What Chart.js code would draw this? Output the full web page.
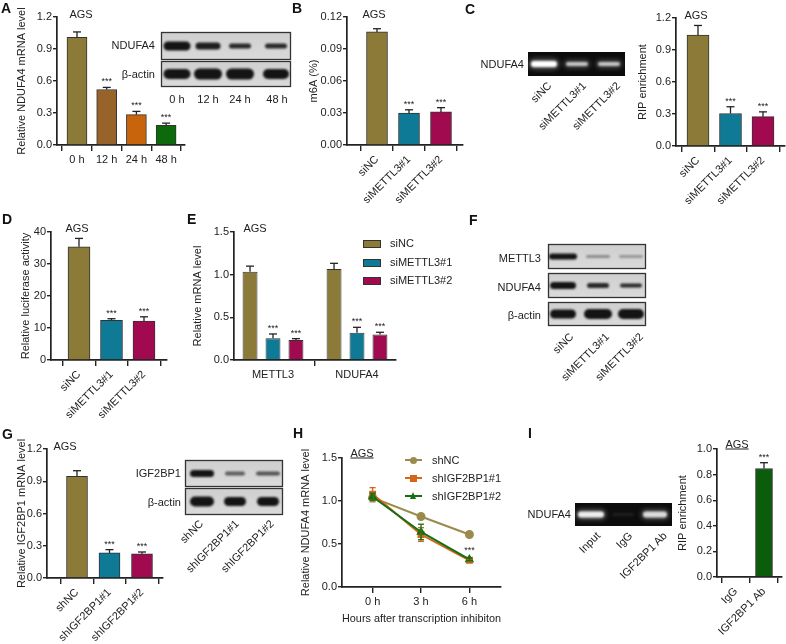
<!DOCTYPE html>
<html><head><meta charset="utf-8">
<script src="https://cdn.jsdelivr.net/npm/chart.js@4.4.1/dist/chart.umd.min.js"></script>
<style>
body{margin:0;width:786px;height:644px;position:relative;overflow:hidden;background:#fff;font-family:"Liberation Sans",Arial,Helvetica,sans-serif;color:#222}
.t{position:absolute;white-space:nowrap;font-size:11px;line-height:1}
.L{position:absolute;font-weight:bold;font-size:14px;line-height:1;color:#111}
.rw{position:absolute;width:0;height:0}
.rw span{position:absolute;right:0;top:0;white-space:nowrap;font-size:11px;line-height:1;transform-origin:100% 0;transform:rotate(-45deg)}
</style></head><body>
<canvas id="bg" width="786" height="644" style="position:absolute;left:0;top:0"></canvas>
<script>
// ---------------- DATA ----------------
// Panel A
const aCats = ['0 h', '12 h', '24 h', '48 h'];
const aVals = [1.01, 0.52, 0.285, 0.185];
const aErr  = [1.06, 0.54, 0.315, 0.205];   // upper end of error bars
const aSig  = ['', '***', '***', '***'];
const aTicks = [0, 0.3, 0.6, 0.9, 1.2];
// Panels B, C, D (siRNA)
const siCats = ['siNC', 'siMETTL3#1', 'siMETTL3#2'];
const bVals = [0.106, 0.030, 0.031];
const bErr  = [0.109, 0.033, 0.035];
const bTicks = [0, 0.03, 0.06, 0.09, 0.12];
const cVals = [1.04, 0.305, 0.275];
const cErr  = [1.13, 0.368, 0.32];
const cTicks = [0, 0.3, 0.6, 0.9, 1.2];
const dVals = [35.4, 12.4, 12.2];
const dErr  = [38.0, 12.9, 13.5];
const dTicks = [0, 10, 20, 30, 40];
const sig3 = ['', '***', '***'];
// Panel E
const eCats = ['METTL3', 'NDUFA4'];
const eSeries = ['siNC', 'siMETTL3#1', 'siMETTL3#2'];
const eNC    = [1.035, 1.065];
const eNCErr = [1.10, 1.133];
const eS1    = [0.255, 0.32];
const eS1Err = [0.305, 0.383];
const eS2    = [0.235, 0.30];
const eS2Err = [0.25, 0.325];
const eTicks = [0, 0.5, 1.0, 1.5];
// Panel G
const shCats = ['shNC', 'shIGF2BP1#1', 'shIGF2BP1#2'];
const gVals = [0.946, 0.233, 0.226];
const gErr  = [0.998, 0.264, 0.242];
const gTicks = [0, 0.3, 0.6, 0.9, 1.2];
// Panel H
const hHours  = [0, 3, 6];
const hLabels = ['0 h', '3 h', '6 h'];
const hSeries = ['shNC', 'shIGF2BP1#1', 'shIGF2BP1#2'];
const hNC   = [1.04, 0.82, 0.61];
const hNCsd = [0.05, 0.015, 0.025];
const h1    = [1.08, 0.61, 0.31];
const h1sd  = [0.075, 0.08, 0.015];
const h2    = [1.05, 0.64, 0.32];
const h2sd  = [0.04, 0.09, 0.015];
const h1Sig = ['', '', '***'];
const hTicks = [0, 0.5, 1.0, 1.5];
// Panel I
const iCats = ['IgG', 'IGF2BP1 Ab'];
const iVals = [0, 0.848];
const iErr  = [0, 0.893];
const iSig  = ['', '***'];
const iTicks = [0, 0.2, 0.4, 0.6, 0.8, 1.0];

// ---------------- STYLE ----------------
const INK = '#222';
const OLIVE = '#8b7a38', BROWN = '#98632a', ORANGE = '#c8650c', GREEN = '#0c6a0c',
      TEAL = '#0f7a95', CRIMSON = '#a10a4f', DKGREEN = '#0b5c0b';
const FONT = '"Liberation Sans", Arial, Helvetica, sans-serif';
Chart.defaults.font.family = FONT;
Chart.defaults.font.size = 11;
Chart.defaults.color = INK;

const errPlugin = {
  id: 'errbars',
  afterDatasetsDraw(chart) {
    const ctx = chart.ctx, ys = chart.scales.y;
    chart.data.datasets.forEach((ds, i) => {
      const meta = chart.getDatasetMeta(i);
      meta.data.forEach((el, j) => {
        const d = ds.data[j];
        const val = (typeof d === 'object') ? d.y : d;
        let top = el.y;
        ctx.save();
        ctx.strokeStyle = ds.errColor || INK;
        ctx.lineWidth = 1.3;
        const cap = ds.capW || 4;
        const seg = (x1, y1, x2, y2) => { ctx.beginPath(); ctx.moveTo(x1, y1); ctx.lineTo(x2, y2); ctx.stroke(); };
        if (ds.errHi && ds.errHi[j] > val) {
          const py = ys.getPixelForValue(ds.errHi[j]);
          seg(el.x, el.y, el.x, py); seg(el.x - cap, py, el.x + cap, py);
          top = py;
        }
        if (ds.sd && ds.sd[j] > 0) {
          const pu = ys.getPixelForValue(val + ds.sd[j]);
          const pl = ys.getPixelForValue(val - ds.sd[j]);
          seg(el.x, pl, el.x, pu); seg(el.x - cap, pu, el.x + cap, pu); seg(el.x - cap, pl, el.x + cap, pl);
          top = Math.min(pu, el.y - 4);
        }
        if (ds.sig && ds.sig[j]) {
          ctx.fillStyle = INK; ctx.font = '9px ' + FONT;
          ctx.textAlign = 'center'; ctx.textBaseline = 'bottom';
          ctx.fillText(ds.sig[j], el.x, top - 1);
        }
        ctx.restore();
      });
    });
  }
};

function makeCanvas(g) {
  const padT = 12, padR = g.padR ?? 4;
  const left = Math.round(g.titleX - 6.6);
  const top = g.yTop - padT;
  const w = g.x1 - left + padR, h = g.yBot + g.xH - top;
  const cv = document.createElement('canvas');
  cv.width = w; cv.height = h;
  cv.style.cssText = `position:absolute;left:${left}px;top:${top}px;width:${w}px;height:${h}px`;
  document.body.appendChild(cv);
  return {cv, padT, padR, yW: g.x0 - left};
}

function axisOpts(tl) {
  return {
    grid: {display: true, drawOnChartArea: false, tickLength: tl, color: INK, lineWidth: 1.4},
    border: {display: true, color: INK, width: 1.7}
  };
}

function buildChart(type, g, datasets, xLabels, xValues, yTicks, dec, extraX) {
  const {cv, padT, padR, yW} = makeCanvas(g);
  const xmin = xValues[0] - (g.c0 - g.x0) / g.d;
  const xmax = xmin + (g.x1 - g.x0) / g.d;
  const x = Object.assign({
    type: 'linear', min: xmin, max: xmax, offset: false,
    afterBuildTicks: s => { s.ticks = xValues.map(v => ({value: v})); },
    ticks: {autoSkip: false, minRotation: g.rot || 0, maxRotation: g.rot || 0, padding: 2, color: INK,
            callback: v => xLabels[xValues.indexOf(v)]},
    afterFit: s => { s.height = g.xH; }
  }, axisOpts(6), extraX || {});
  const y = Object.assign({
    min: yTicks[0], max: yTicks[yTicks.length - 1],
    afterBuildTicks: s => { s.ticks = yTicks.map(v => ({value: v})); },
    ticks: {padding: 1, color: INK, callback: v => Number(v).toFixed(dec)},
    title: {display: true, text: g.title, padding: {top: 0, bottom: 0}, color: INK, font: {size: 11}},
    afterFit: s => { s.width = yW; }
  }, axisOpts(4));
  return new Chart(cv, {
    type,
    data: {datasets},
    options: {
      responsive: false, animation: false, devicePixelRatio: 1,
      layout: {padding: {top: padT, right: padR, left: 0, bottom: 0}},
      plugins: {legend: {display: false}, tooltip: {enabled: false}},
      scales: {x, y}
    },
    plugins: [errPlugin]
  });
}

const idx = arr => arr.map((_, i) => i);
const pts = (xs, ys) => ys.map((v, i) => ({x: xs[i], y: v}));
function barDs(vals, colors, err, sig, bw) {
  return {data: pts(idx(vals), vals), backgroundColor: colors, borderColor: '#333', borderWidth: 1,
          barThickness: bw, errHi: err, sig: sig};
}

// ---- A
buildChart('bar', {title: 'Relative NDUFA4 mRNA level', titleX: 22, x0: 57, x1: 185, yTop: 17, yBot: 145, xH: 28, c0: 77, d: 29.7},
  [barDs(aVals, [OLIVE, BROWN, ORANGE, GREEN], aErr, aSig, 20)], aCats, idx(aCats), aTicks, 1);
// ---- B
buildChart('bar', {title: 'm6A (%)', titleX: 314, x0: 347, x1: 463, yTop: 17, yBot: 145, xH: 62, c0: 377, d: 32, rot: 45},
  [barDs(bVals, [OLIVE, TEAL, CRIMSON], bErr, sig3, 21)], siCats, idx(siCats), bTicks, 2);
// ---- C
buildChart('bar', {title: 'RIP enrichment', titleX: 643, x0: 676, x1: 785, yTop: 18, yBot: 146, xH: 62, c0: 698, d: 32.5, rot: 45, padR: 1},
  [barDs(cVals, [OLIVE, TEAL, CRIMSON], cErr, sig3, 22)], siCats, idx(siCats), cTicks, 1);
// ---- D
buildChart('bar', {title: 'Relative luciferase activity', titleX: 26, x0: 51, x1: 167, yTop: 232, yBot: 360, xH: 62, c0: 79, d: 32.5, rot: 45},
  [barDs(dVals, [OLIVE, TEAL, CRIMSON], dErr, sig3, 22)], siCats, idx(siCats), dTicks, 0);
// ---- E (grouped)
const eColors = [OLIVE, TEAL, CRIMSON];
const eData = [eNC, eS1, eS2], eErrs = [eNCErr, eS1Err, eS2Err];
buildChart('bar', {title: 'Relative mRNA level', titleX: 198, x0: 234, x1: 396, yTop: 232, yBot: 360, xH: 28, c0: 273, d: 84},
  eSeries.map((name, k) => ({label: name, data: pts(idx(eCats), eData[k]), backgroundColor: eColors[k],
    borderColor: '#333', borderWidth: 1, categoryPercentage: 0.82, barPercentage: 0.65,
    errHi: eErrs[k], sig: k === 0 ? null : ['***', '***']})),
  eCats, idx(eCats), eTicks, 1);
// ---- G
buildChart('bar', {title: 'Relative IGF2BP1 mRNA level', titleX: 22, x0: 47, x1: 163, yTop: 449, yBot: 578, xH: 64, c0: 77, d: 32.5, rot: 45},
  [barDs(gVals, [OLIVE, TEAL, CRIMSON], gErr, sig3, 21)], shCats, idx(shCats), gTicks, 1);
// ---- I
buildChart('bar', {title: 'RIP enrichment', titleX: 683, x0: 717, x1: 782, yTop: 449, yBot: 577, xH: 62, c0: 736, d: 28, rot: 45, padR: 3},
  [barDs(iVals, [DKGREEN, DKGREEN], iErr, iSig, 17)], iCats, idx(iCats), iTicks, 1);
// ---- H (line)
const hColors = ['#9a8a4c', '#d4661a', '#137013'];
const hStyles = ['circle', 'rect', 'triangle'];
const hData = [hNC, h1, h2], hSd = [hNCsd, h1sd, h2sd];
buildChart('line', {title: 'Relative NDUFA4 mRNA level', titleX: 306, x0: 342, x1: 503, yTop: 458, yBot: 587, xH: 39, c0: 373, d: 16.333},
  hSeries.map((name, k) => ({label: name, data: pts(hHours, hData[k]), borderColor: hColors[k], backgroundColor: hColors[k],
    pointStyle: hStyles[k], pointRadius: 3.5, borderWidth: 2, errColor: hColors[k], capW: 3,
    sd: hSd[k], sig: k === 1 ? h1Sig : null, order: 3 - k})),
  hLabels, hHours, hTicks, 1,
  {title: {display: true, text: 'Hours after transcription inhibiton', padding: {top: 0, bottom: 0}, color: INK, font: {size: 11}}});

// ---------------- TEXT ----------------
function txt(s, x, y, align, cls, extra) {
  const d = document.createElement('div');
  d.className = cls || 't';
  d.textContent = s;
  const tx = align === 'right' ? '-100%' : align === 'left' ? '0' : '-50%';
  d.style.cssText = `left:${x}px;top:${y}px;transform:translate(${tx},-50%);` + (extra || '');
  document.body.appendChild(d);
}
function rot(s, x, y) {
  const w = document.createElement('div');
  w.className = 'rw'; w.style.left = x + 'px'; w.style.top = y + 'px';
  const sp = document.createElement('span'); sp.textContent = s;
  w.appendChild(sp); document.body.appendChild(w);
}
// panel letters
[['A', 1, 8], ['B', 292, 8], ['C', 465, 9], ['D', 2, 219], ['E', 187, 219], ['F', 469, 220],
 ['G', 2, 434], ['H', 293, 433], ['I', 528, 433]].forEach(([s, x, y]) => txt(s, x, y, 'left', 'L'));
// AGS labels
[[81, 14], [374, 14], [696, 15], [77, 228], [255, 228], [65, 446]].forEach(([x, y]) => txt('AGS', x, y, 'center'));
txt('AGS', 362, 453, 'center', 't', 'text-decoration:underline;');
txt('AGS', 737, 444, 'center', 't', 'text-decoration:underline;');

// E legend
const eLegY = [243, 262, 280];
eSeries.forEach((name, k) => {
  const b = document.createElement('div');
  b.style.cssText = `position:absolute;left:363px;top:${eLegY[k] - 3}px;width:16px;height:6px;background:${eColors[k]};border:1px solid #333`;
  document.body.appendChild(b);
  txt(name, 390, eLegY[k], 'left');
});
// H legend
const hLegY = [460, 478, 496];
hSeries.forEach((name, k) => {
  const l = document.createElement('div');
  l.style.cssText = `position:absolute;left:405px;top:${hLegY[k] - 1}px;width:17px;height:2px;background:${hColors[k]}`;
  document.body.appendChild(l);
  const m = document.createElement('div');
  if (k === 0) m.style.cssText = `position:absolute;left:410px;top:${hLegY[k] - 3.5}px;width:7px;height:7px;border-radius:50%;background:${hColors[k]}`;
  else if (k === 1) m.style.cssText = `position:absolute;left:410px;top:${hLegY[k] - 3.5}px;width:7px;height:7px;background:${hColors[k]}`;
  else m.style.cssText = `position:absolute;left:410px;top:${hLegY[k] - 4}px;width:0;height:0;border-left:3.5px solid transparent;border-right:3.5px solid transparent;border-bottom:7px solid ${hColors[k]}`;
  document.body.appendChild(m);
  txt(name, 432, hLegY[k], 'left');
});

// ---------------- BLOT / GEL IMAGES ----------------
const bg = document.getElementById('bg').getContext('2d');
function frame(x, y, w, h, dark) {
  if (dark) { bg.fillStyle = '#0c0c0c'; bg.fillRect(x, y, w, h); return; }
  const gr = bg.createLinearGradient(x, y, x, y + h);
  gr.addColorStop(0, '#cfcfcf'); gr.addColorStop(1, '#dadada');
  bg.fillStyle = gr; bg.fillRect(x, y, w, h);
  bg.strokeStyle = '#333'; bg.lineWidth = 1.3; bg.strokeRect(x + 0.5, y + 0.5, w - 1, h - 1);
}
function band(cx, cy, w, h, a, col, blur) {
  bg.save();
  bg.filter = `blur(${blur}px)`;
  bg.globalAlpha = a; bg.fillStyle = col;
  bg.beginPath();
  if (bg.roundRect) bg.roundRect(cx - w / 2, cy - h / 2, w, h, h / 2);
  else bg.ellipse(cx, cy, w / 2, h / 2, 0, 0, Math.PI * 2);
  bg.fill();
  bg.restore();
}
function blot(x, w, rows, lanes) {
  rows.forEach(r => {
    frame(x, r.y, w, r.h);
    lanes.forEach((lx, i) => band(lx, r.y + r.h / 2, r.bw[i], r.bh[i], r.a[i], '#0a0a0a', 1.3));
  });
}
function gel(x, y, w, h, lanes, bw, bh, a) {
  frame(x, y, w, h, true);
  lanes.forEach((lx, i) => {
    band(lx, y + h / 2, bw[i] + 4, bh[i] + 4, a[i] * 0.5, '#bbbbbb', 2.5);
    band(lx, y + h / 2, bw[i], bh[i], a[i], '#ffffff', 1.2);
  });
}
// A blot
blot(161, 130, [
  {y: 32, h: 28, bw: [27, 25, 22, 22], bh: [9, 7, 5, 5], a: [0.95, 0.9, 0.85, 0.85]},
  {y: 61, h: 26, bw: [27, 28, 28, 26], bh: [10, 11, 11, 10], a: [0.95, 0.95, 0.95, 0.95]}
], [177, 208, 240, 276]);
txt('NDUFA4', 155, 45, 'right'); txt('β-actin', 155, 74, 'right');
['0 h', '12 h', '24 h', '48 h'].forEach((s, i) => txt(s, [177, 208, 240, 277][i], 99, 'center'));
// C gel
gel(528, 52, 97, 24, [544, 577, 609], [26, 22, 22], [6, 4, 4], [1, 0.7, 0.7]);
txt('NDUFA4', 524, 64, 'right');
siCats.forEach((s, i) => rot(s, [546, 580, 614][i], 80));
// F blot
blot(548, 98, [
  {y: 244, h: 25, bw: [28, 24, 24], bh: [6, 3, 3], a: [0.95, 0.35, 0.3]},
  {y: 273, h: 25, bw: [26, 22, 22], bh: [7, 5, 4], a: [0.95, 0.85, 0.85]},
  {y: 302, h: 24, bw: [26, 28, 26], bh: [9, 10, 10], a: [0.95, 0.95, 0.95]}
], [563, 598, 631]);
txt('METTL3', 541, 258, 'right'); txt('NDUFA4', 541, 287, 'right'); txt('β-actin', 541, 315, 'right');
siCats.forEach((s, i) => rot(s, [568, 603, 637][i], 331));
// G blot
blot(185, 98, [
  {y: 460, h: 27, bw: [24, 20, 24], bh: [7, 4, 4], a: [0.95, 0.6, 0.65]},
  {y: 488, h: 27, bw: [24, 22, 22], bh: [10, 9, 9], a: [0.95, 0.95, 0.95]}
], [202, 235, 268]);
txt('IGF2BP1', 181, 473, 'right'); txt('β-actin', 181, 502, 'right');
shCats.forEach((s, i) => rot(s, [198, 233, 268][i], 518));
// I gel
gel(575, 503, 97, 23, [591, 623, 655], [26, 22, 24], [6, 3, 6], [0.9, 0.06, 0.8]);
txt('NDUFA4', 571, 514, 'right');
['Input', 'IgG', 'IGF2BP1 Ab'].forEach((s, i) => rot(s, [594, 627, 661][i], 530));
</script></body></html>
